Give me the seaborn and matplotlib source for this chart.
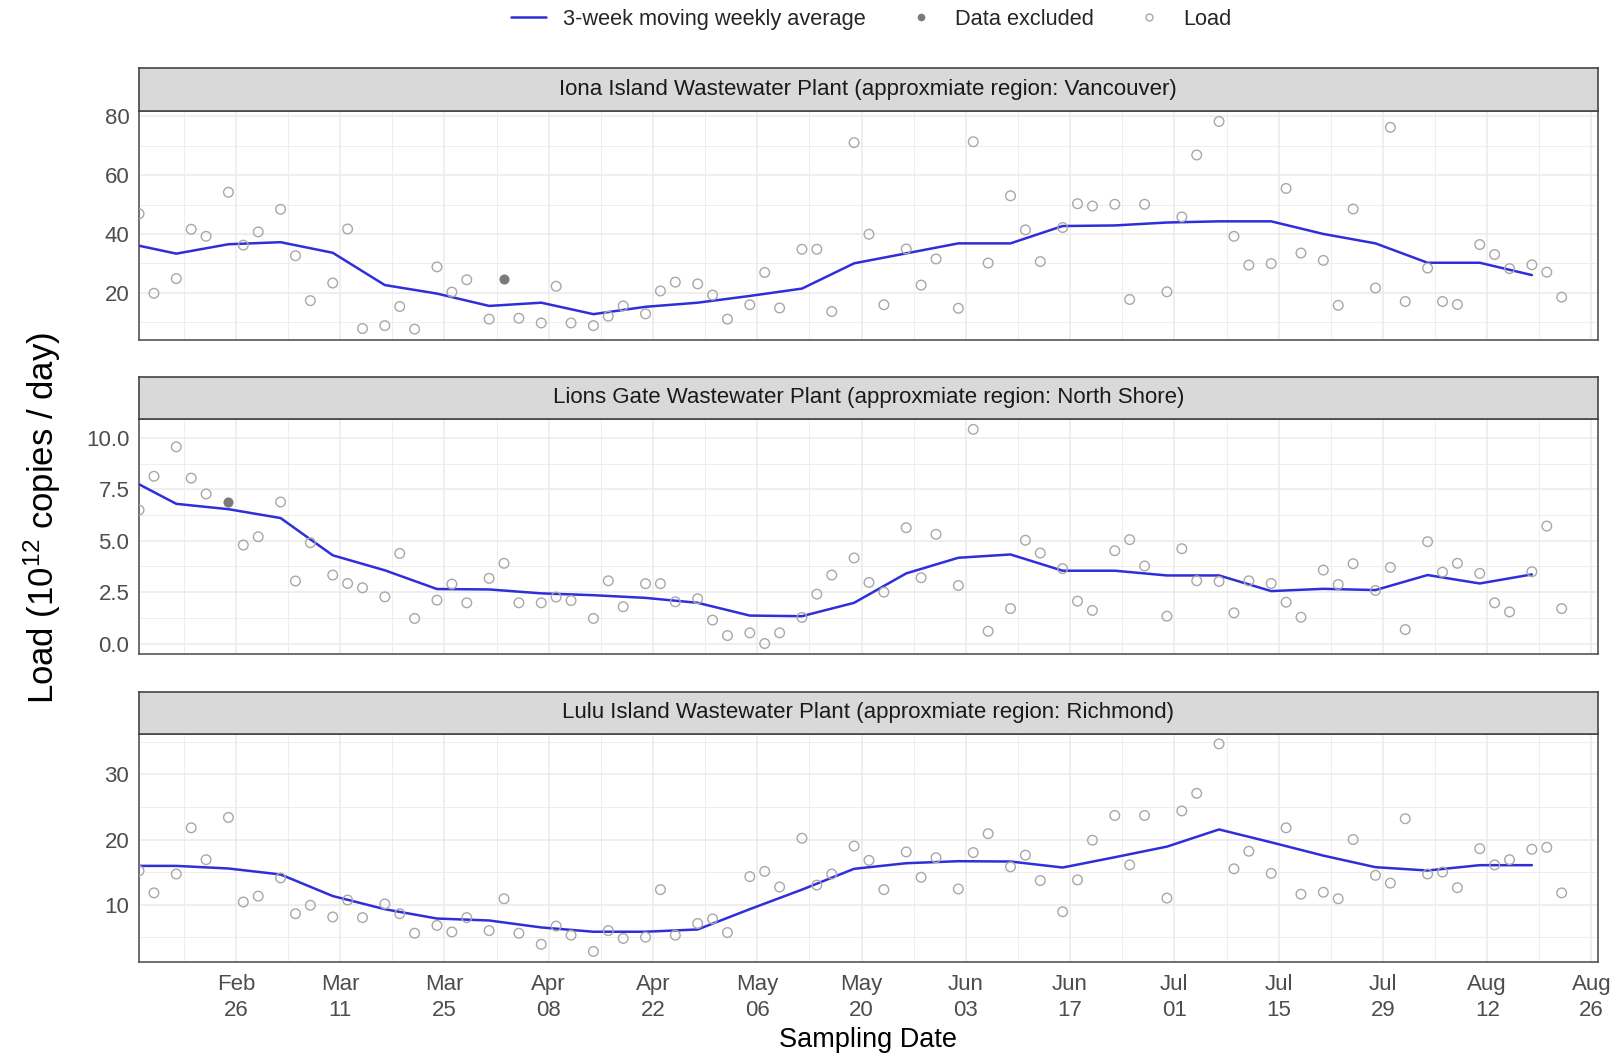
import pandas as pd
import numpy as np
import seaborn as sns
import matplotlib.pyplot as plt
import matplotlib.dates as mdates
from matplotlib.lines import Line2D
from matplotlib.ticker import FixedLocator

# sampling dates (Tue / Thu / Sun)
sample_dates = [
    "2024-02-13", "2024-02-15", "2024-02-18", "2024-02-20", "2024-02-22", "2024-02-25", "2024-02-27", "2024-02-29",
    "2024-03-03", "2024-03-05", "2024-03-07", "2024-03-10", "2024-03-12", "2024-03-14", "2024-03-17", "2024-03-19",
    "2024-03-21", "2024-03-24", "2024-03-26", "2024-03-28", "2024-03-31",
    "2024-04-02", "2024-04-04", "2024-04-07", "2024-04-09", "2024-04-11", "2024-04-14", "2024-04-16", "2024-04-18",
    "2024-04-21", "2024-04-23", "2024-04-25", "2024-04-28", "2024-04-30",
    "2024-05-02", "2024-05-05", "2024-05-07", "2024-05-09", "2024-05-12", "2024-05-14", "2024-05-16", "2024-05-19",
    "2024-05-21", "2024-05-23", "2024-05-26", "2024-05-28", "2024-05-30",
    "2024-06-02", "2024-06-04", "2024-06-06", "2024-06-09", "2024-06-11", "2024-06-13", "2024-06-16", "2024-06-18",
    "2024-06-20", "2024-06-23", "2024-06-25", "2024-06-27", "2024-06-30",
    "2024-07-02", "2024-07-04", "2024-07-07", "2024-07-09", "2024-07-11", "2024-07-14", "2024-07-16", "2024-07-18",
    "2024-07-21", "2024-07-23", "2024-07-25", "2024-07-28", "2024-07-30",
    "2024-08-01", "2024-08-04", "2024-08-06", "2024-08-08", "2024-08-11", "2024-08-13", "2024-08-15", "2024-08-18",
    "2024-08-20", "2024-08-22",
]

# loads (10^12 copies / day), None = excluded sample
iona_load = [
    46.9, 19.8, 24.8, 41.6, 39.2, 54.2, 36.2, 40.7,
    48.4, 32.6, 17.3, 23.3, 41.7, 7.8, 8.8, 15.3, 7.6, 28.8, 20.2, 24.4, 11.0,
    None, 11.3, 9.7, 22.2, 9.7, 8.8, 12.0, 15.5, 12.8, 20.6, 23.6, 23.0, 19.2,
    11.0, 15.9, 26.9, 14.8, 34.8, 34.8, 13.6, 71.1, 39.9, 15.9, 34.9, 22.6, 31.5,
    14.7, 71.4, 30.1, 53.0, 41.4, 30.6, 42.2, 50.3, 49.5, 50.1, 17.7, 50.1, 20.3,
    45.8, 66.9, 78.3, 39.2, 29.4, 29.9, 55.5, 33.5, 31.0, 15.7, 48.5, 21.6, 76.3,
    17.0, 28.4, 17.0, 16.0, 36.4, 33.0, 28.2, 29.5, 27.0, 18.5,
]
lions_load = [
    6.49, 8.13, 9.56, 8.04, 7.27, None, 4.79, 5.19,
    6.88, 3.04, 4.90, 3.33, 2.92, 2.71, 2.27, 4.38, 1.22, 2.11, 2.89, 1.98, 3.17,
    3.90, 1.98, 1.98, 2.26, 2.09, 1.22, 3.05, 1.79, 2.91, 2.91, 2.03, 2.18, 1.14,
    0.39, 0.52, 0.0, 0.52, 1.27, 2.40, 3.33, 4.16, 2.97, 2.50, 5.63, 3.20, 5.31,
    2.82, 10.41, 0.60, 1.70, 5.02, 4.40, 3.64, 2.06, 1.61, 4.51, 5.05, 3.77, 1.33,
    4.61, 3.05, 3.02, 1.49, 3.05, 2.92, 2.01, 1.28, 3.57, 2.87, 3.88, 2.58, 3.70,
    0.68, 4.95, 3.47, 3.90, 3.41, 1.98, 1.54, 3.49, 5.71, 1.70,
]
lulu_load = [
    15.2, 11.8, 14.7, 21.8, 16.9, 23.4, 10.4, 11.3,
    14.1, 8.6, 9.9, 8.1, 10.7, 8.0, 10.1, 8.6, 5.6, 6.8, 5.8, 8.0, 6.0,
    10.9, 5.6, 3.9, 6.7, 5.3, 2.8, 6.0, 4.8, 5.0, 12.3, 5.3, 7.1, 7.8,
    5.7, 14.3, 15.1, 12.7, 20.2, 13.0, 14.7, 19.0, 16.8, 12.3, 18.1, 14.2, 17.2,
    12.4, 18.0, 20.9, 15.8, 17.6, 13.7, 8.9, 13.8, 19.9, 23.7, 16.1, 23.7, 11.0,
    24.4, 27.1, 34.7, 15.5, 18.2, 14.8, 21.8, 11.6, 11.9, 10.9, 20.0, 14.5, 13.3,
    23.2, 14.7, 15.0, 12.6, 18.6, 16.1, 16.9, 18.5, 18.8, 11.8,
]

# excluded samples
iona_excl_dates = ["2024-04-02"]
iona_excl_load = [24.7]
lions_excl_dates = ["2024-02-25"]
lions_excl_load = [6.87]
lulu_excl_dates = []
lulu_excl_load = []

# 3-week moving weekly average
avg_dates = [
    "2024-02-13", "2024-02-18", "2024-02-25", "2024-03-03", "2024-03-10", "2024-03-17", "2024-03-24",
    "2024-03-31", "2024-04-07", "2024-04-14", "2024-04-21", "2024-04-28", "2024-05-05", "2024-05-12",
    "2024-05-19", "2024-05-26", "2024-06-02", "2024-06-09", "2024-06-16", "2024-06-23", "2024-06-30",
    "2024-07-07", "2024-07-14", "2024-07-21", "2024-07-28", "2024-08-04", "2024-08-11", "2024-08-18",
]
iona_avg = [36.0, 33.3, 36.5, 37.2, 33.6, 22.6, 19.7, 15.5, 16.6, 12.7, 15.2, 16.6, 18.9, 21.4,
            30.0, 33.4, 36.8, 36.8, 42.7, 42.9, 43.9, 44.3, 44.3, 40.0, 36.8, 30.2, 30.2, 26.0]
lions_avg = [7.74, 6.79, 6.53, 6.10, 4.29, 3.56, 2.65, 2.63, 2.44, 2.35, 2.22, 1.98, 1.36, 1.33,
             1.98, 3.41, 4.17, 4.33, 3.54, 3.54, 3.31, 3.31, 2.55, 2.66, 2.60, 3.33, 2.92, 3.36]
lulu_avg = [15.95, 15.95, 15.55, 14.63, 11.32, 9.29, 7.86, 7.56, 6.49, 5.83, 5.83, 6.18, 9.3, 12.3,
            15.5, 16.36, 16.67, 16.62, 15.70, 17.28, 18.91, 21.55, 19.57, 17.53, 15.75, 15.24, 16.06, 16.06]

panel_titles = [
    "Iona Island Wastewater Plant (approxmiate region: Vancouver)",
    "Lions Gate Wastewater Plant (approxmiate region: North Shore)",
    "Lulu Island Wastewater Plant (approxmiate region: Richmond)",
]
y_ticks = [[20, 40, 60, 80], [0.0, 2.5, 5.0, 7.5, 10.0], [10, 20, 30]]
y_fmt = ["{:.0f}", "{:.1f}", "{:.0f}"]

x_ticks = ["2024-02-26", "2024-03-11", "2024-03-25", "2024-04-08", "2024-04-22", "2024-05-06", "2024-05-20",
           "2024-06-03", "2024-06-17", "2024-07-01", "2024-07-15", "2024-07-29", "2024-08-12", "2024-08-26"]
x_limits = ["2024-02-13", "2024-08-26 20:00"]

line_col = "#2E2EDB"
pt_col = "#A8A8A8"
excl_col = "#7A7A7A"
grid_col = "#EBEBEB"
txt_col = "#4D4D4D"

sns.set_style("white")
plt.rcParams["font.family"] = ["Liberation Sans", "DejaVu Sans"]
plt.rcParams["mathtext.fontset"] = "custom"
plt.rcParams["mathtext.rm"] = "Liberation Sans"
plt.rcParams["mathtext.it"] = "Liberation Sans"

fig = plt.figure(figsize=(16.13, 10.58), dpi=100)

left, width = 0.0862, 0.9043
# (axes bottom, axes top, strip top) in figure fractions
boxes = [(0.6791, 0.8950, 0.9358), (0.3816, 0.6043, 0.6441), (0.0909, 0.3067, 0.3457)]

loads = [iona_load, lions_load, lulu_load]
avgs = [iona_avg, lions_avg, lulu_avg]
excl = [(iona_excl_dates, iona_excl_load), (lions_excl_dates, lions_excl_load), (lulu_excl_dates, lulu_excl_load)]

xlo, xhi = pd.to_datetime(x_limits[0]), pd.to_datetime(x_limits[1])
tick_dt = pd.to_datetime(x_ticks)
minor_dt = tick_dt - pd.Timedelta(days=7)

for i in range(3):
    b, t, st = boxes[i]
    ax = fig.add_axes([left, b, width, t - b])

    df = pd.DataFrame({"date": pd.to_datetime(sample_dates), "load": loads[i]}).dropna()
    avg_df = pd.DataFrame({"date": pd.to_datetime(avg_dates), "load": avgs[i]})
    ex_df = pd.DataFrame({"date": pd.to_datetime(excl[i][0]), "load": excl[i][1]})

    allv = pd.concat([df["load"], avg_df["load"], ex_df["load"]])
    lo, hi = allv.min(), allv.max()
    pad = 0.05 * (hi - lo)

    ax.set_axisbelow(True)
    sns.lineplot(data=avg_df, x="date", y="load", ax=ax, color=line_col, linewidth=1.8, zorder=3)
    sns.scatterplot(data=df, x="date", y="load", ax=ax, facecolor="none", edgecolor=pt_col,
                    linewidth=1.0, s=48, zorder=4)
    if len(ex_df):
        sns.scatterplot(data=ex_df, x="date", y="load", ax=ax, color=excl_col, edgecolor=excl_col,
                        s=45, zorder=4)

    ax.set_xlim(xlo, xhi)
    ax.set_ylim(lo - pad, hi + pad)

    yt = y_ticks[i]
    ax.set_yticks(yt)
    ax.set_yticklabels([y_fmt[i].format(v) for v in yt])
    step = yt[1] - yt[0]
    ax.yaxis.set_minor_locator(FixedLocator([v - step / 2 for v in yt] + [yt[-1] + step / 2]))
    ax.set_xticks(tick_dt)
    ax.xaxis.set_minor_locator(FixedLocator(mdates.date2num(minor_dt)))
    ax.xaxis.set_major_formatter(mdates.DateFormatter("%b\n%d"))

    ax.grid(which="major", color=grid_col, linewidth=1.1)
    ax.grid(which="minor", color=grid_col, linewidth=0.6)
    ax.tick_params(axis="both", which="major", length=4, width=1, color="#333333",
                   labelsize=16, labelcolor=txt_col, pad=3, direction="out")
    ax.tick_params(axis="x", which="major", pad=5)
    ax.tick_params(axis="both", which="minor", length=0)
    for lab in ax.get_xticklabels():
        lab.set_linespacing(1.3)
    if i < 2:
        ax.tick_params(axis="x", which="major", labelbottom=False, length=0)
    ax.set_xlabel("")
    ax.set_ylabel("")
    for sp in ax.spines.values():
        sp.set_color("#555555")
        sp.set_linewidth(1.2)

    # facet strip
    sax = fig.add_axes([left, t, width, st - t])
    sax.set_facecolor("#D9D9D9")
    sax.set_xticks([])
    sax.set_yticks([])
    for sp in sax.spines.values():
        sp.set_color("#444444")
        sp.set_linewidth(1.2)
    sax.text(0.5, 0.5, panel_titles[i], ha="center", va="center", fontsize=16,
             color="#1A1A1A", transform=sax.transAxes)

fig.text(0.538, 0.017, "Sampling Date", ha="center", va="center", fontsize=19.5, color="black")
fig.text(0.026, 0.51, "Load (10$^{12}$ copies / day)", ha="center", va="center",
         rotation=90, fontsize=25, color="black")

handles = [
    Line2D([], [], color=line_col, linewidth=1.8),
    Line2D([], [], marker="o", linestyle="none", markerfacecolor=excl_col, markeredgecolor=excl_col, markersize=4.5),
    Line2D([], [], marker="o", linestyle="none", markerfacecolor="none", markeredgecolor=pt_col, markersize=5),
]
labels = ["3-week moving weekly average", "Data excluded", "Load"]
fig.legend(handles, labels, loc="center", bbox_to_anchor=(0.54, 0.982), ncol=3, frameon=False,
           fontsize=15.7, handlelength=1.65, columnspacing=1.7, handletextpad=0.75)

fig.savefig("out.png", dpi=100)
